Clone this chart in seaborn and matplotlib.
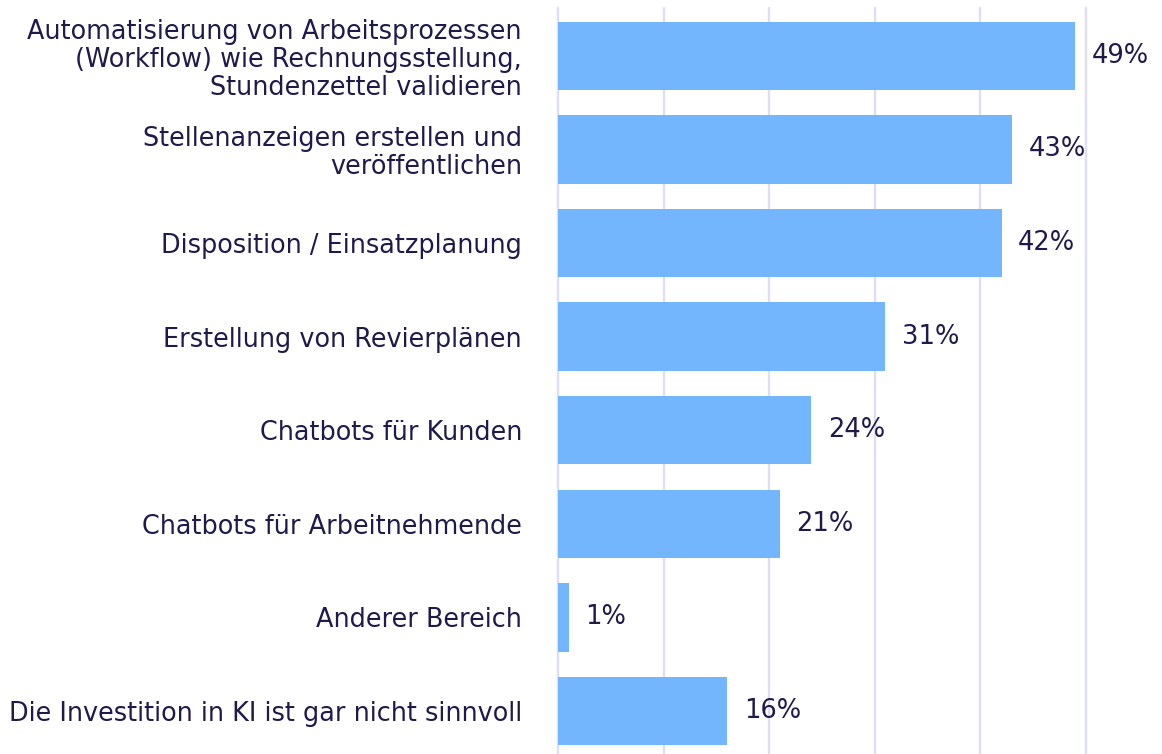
import matplotlib
matplotlib.use("Agg")
import matplotlib.pyplot as plt
import seaborn as sns
import pandas as pd

categories = [
    "Automatisierung von Arbeitsprozessen\n(Workflow) wie Rechnungsstellung,\nStundenzettel validieren",
    "Stellenanzeigen erstellen und\nveröffentlichen",
    "Disposition / Einsatzplanung",
    "Erstellung von Revierplänen",
    "Chatbots für Kunden",
    "Chatbots für Arbeitnehmende",
    "Anderer Bereich",
    "Die Investition in KI ist gar nicht sinnvoll",
]
values = [49, 43, 42, 31, 24, 21, 1, 16]

text_color = "#1e1a4a"
bar_color = "#74b6fd"
grid_color = "#dedef6"

sns.set_style("white")
plt.rcParams["font.family"] = ["DejaVu Sans"]

df = pd.DataFrame({"category": categories, "value": values})

fig = plt.figure(figsize=(11.62, 7.54), dpi=100)
ax = fig.add_axes([558 / 1162, 0, (1086 - 558) / 1162, 746 / 754])

sns.barplot(data=df, x="value", y="category", color=bar_color, width=0.73,
            saturation=1, linewidth=0, ax=ax, zorder=2)

ax.set_xlim(0, 50)
ax.set_ylim(7.46, -0.51)
ax.set_xticks([0, 10, 20, 30, 40, 50])
ax.xaxis.grid(True, color=grid_color, linewidth=1.7, zorder=0)
for gl in ax.get_xgridlines():
    gl.set_clip_on(False)
ax.set_axisbelow(True)
ax.tick_params(axis="x", length=0, labelbottom=False)
ax.tick_params(axis="y", length=0, pad=26, labelsize=18.4, labelcolor=text_color)
for lbl in ax.get_yticklabels():
    lbl.set_linespacing(1.1)
ax.set_xlabel("")
ax.set_ylabel("")
for s in ax.spines.values():
    s.set_visible(False)

ax.bar_label(ax.containers[0], labels=[f"{v}%" for v in values], padding=12,
             fontsize=18.5, color=text_color)

fig.savefig("out.png", dpi=100)
